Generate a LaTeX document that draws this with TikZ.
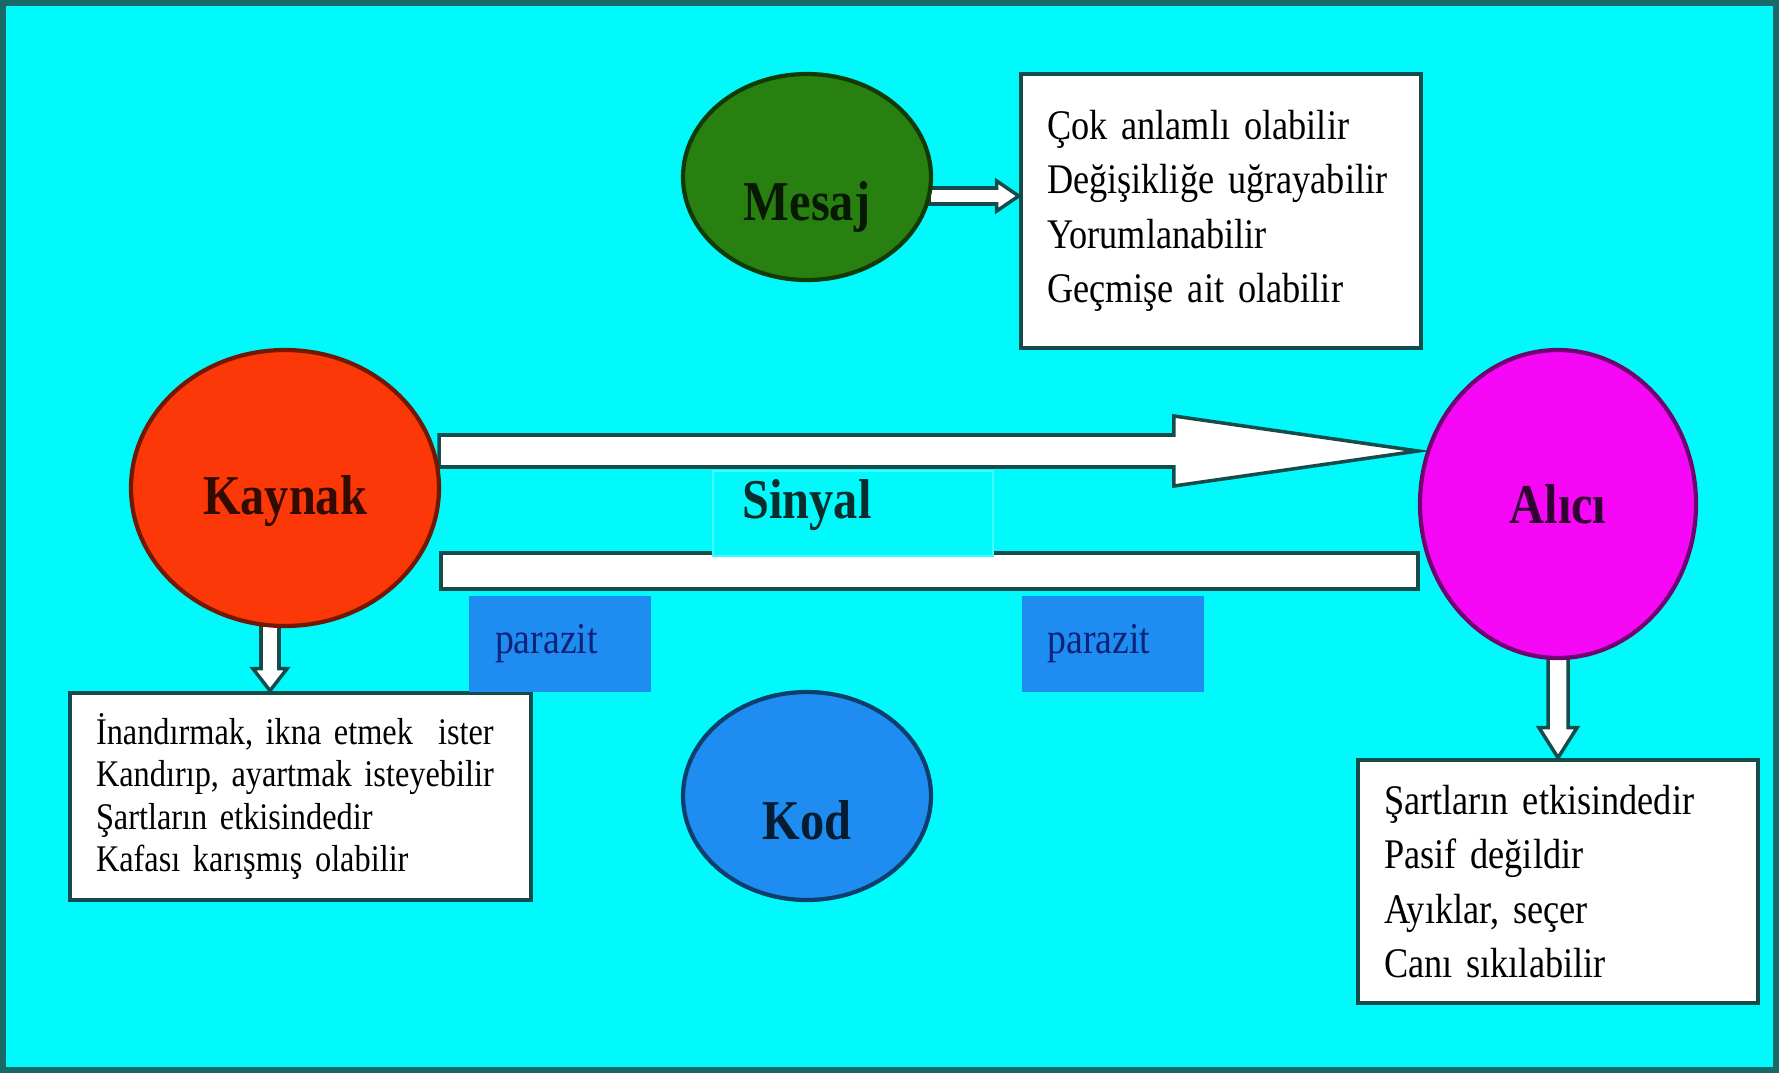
\documentclass[tikz,border=0pt]{standalone}
\usepackage{fontspec}
\setmainfont{Liberation Serif}[FakeStretch=0.86]
\usetikzlibrary{calc,shapes.geometric}
\definecolor{cmbg}{RGB}{0,250,252}
\definecolor{cmframe}{RGB}{25,105,105}
\definecolor{cmline}{RGB}{20,75,75}
\definecolor{cmgreen}{RGB}{40,128,16}
\definecolor{cmred}{RGB}{252,56,8}
\definecolor{cmpink}{RGB}{246,8,246}
\definecolor{cmblue}{RGB}{30,140,240}
\definecolor{cmnavy}{RGB}{15,35,120}
\pgfdeclarelayer{back}
\pgfdeclarelayer{links}
\pgfsetlayers{back,links,main}
% block arrow: start, end, shaft half width, head half width, head length
\newcommand{\blockarrow}[5]{%
  \coordinate (bah) at ($(#2)!#5!(#1)$);
  \draw[blk] ($(#1)!#3!90:(#2)$) -- ($(bah)!#3!90:(#2)$) -- ($(bah)!#4!90:(#2)$) -- (#2)
    -- ($(bah)!#4!-90:(#2)$) -- ($(bah)!#3!-90:(#2)$) -- ($(#1)!#3!-90:(#2)$) -- cycle;}

\begin{document}
\begin{tikzpicture}[
    blob/.style={ellipse,draw=#1!45!black,fill=#1,text=#1!20!black,line width=1.2pt,inner sep=0pt,
      font=\fontsize{16}{19}\selectfont\bfseries},
    lowtext/.style={text height=.9cm,text depth=.04cm},
    listbox/.style={draw=cmline,line width=1.3pt,fill=white,align=left,inner xsep=.26cm,
      font=\fontsize{12}{15.5}\selectfont},
    noise/.style={fill=cmblue,text=cmnavy,align=left,text width=1.3cm,inner xsep=.26cm,
      minimum height=.96cm,font=\fontsize{12.5}{15}\selectfont},
    sigbox/.style={draw=white!25!cmbg,line width=.4pt,fill=cmbg,align=left,inner xsep=.295cm,inner ysep=0pt,
      text width=2.21cm,minimum height=.85cm,text height=.45cm,text depth=.36cm,
      text=cmline!60!black,font=\fontsize{16}{19}\selectfont\bfseries},
    blk/.style={draw=cmline,fill=white,line width=1pt},
    bar/.style={draw=cmline,fill=white,line width=1pt}]

\useasboundingbox (0,0) rectangle (17.79,10.73);
\begin{pgfonlayer}{back}
  \draw[line width=1.5pt,draw=cmframe,fill=cmbg] (.03,.03) rectangle (17.76,10.70);
\end{pgfonlayer}

% the four parts
\node[blob=cmgreen,minimum width=2.48cm,minimum height=2.06cm,lowtext] (mesaj) at (8.07,8.96) {Mesaj};
\node[blob=cmred,minimum width=3.08cm,minimum height=2.76cm,text height=.55cm,text depth=.02cm] (kaynak) at (2.85,5.85) {Kaynak};
\node[blob=cmpink,minimum width=2.76cm,minimum height=3.08cm] (alici) at (15.58,5.69) {Alıcı};
\node[blob=cmblue,minimum width=2.48cm,minimum height=2.08cm,lowtext] (kod) at (8.07,2.77) {Kod};

% lists
\node[listbox,text width=3.48cm,minimum height=2.74cm] (mesajlist) at (12.21,8.62)
  {Çok anlamlı olabilir\\Değişikliğe uğrayabilir\\Yorumlanabilir\\Geçmişe ait olabilir\\[-.1cm]};
\node[listbox,text width=4.09cm,minimum height=2.07cm,font=\fontsize{10.7}{12}\selectfont] (kaynaklist) at (3.005,2.765)
  {İnandırmak, ikna etmek\ \ ister\\Kandırıp, ayartmak isteyebilir\\Şartların etkisindedir\\Kafası karışmış olabilir};
\node[listbox,text width=3.48cm,minimum height=2.43cm] (alicilist) at (15.58,1.915)
  {Şartların etkisindedir\\Pasif değildir\\Ayıklar, seçer\\Canı sıkılabilir};

% arrows
\begin{pgfonlayer}{links}
  \coordinate (m-a) at ($(mesaj.east)+(-.04,-.19)$);
  \coordinate (m-b) at (mesajlist.west |- m-a);
  \blockarrow{m-a}{m-b}{.08cm}{.15cm}{.22cm}
  \coordinate (s-a) at ($(kaynak.east)+(-.02,.37)$);
  \coordinate (s-b) at (alici.west |- s-a);
  \blockarrow{s-a}{s-b}{.16cm}{.35cm}{2.44cm}
  \coordinate (k-a) at ($(kaynak.south)+(-.15,.05)$);
  \coordinate (k-b) at (kaynaklist.north -| k-a);
  \blockarrow{k-a}{k-b}{.09cm}{.17cm}{.22cm}
  \coordinate (a-a) at ($(alici.south)+(0,.05)$);
  \coordinate (a-b) at (alicilist.north -| a-a);
  \blockarrow{a-a}{a-b}{.1cm}{.19cm}{.3cm}
\end{pgfonlayer}

% channel
\draw[bar] (kaynak.east |- 0,5.20) rectangle (alici.west |- 0,4.84);
\node[sigbox] (sinyal) at (8.53,5.595) {Sinyal};
\node[noise] (parazit1) at (5.60,4.29) {parazit};
\node[noise] (parazit2) at (11.125,4.29) {parazit};
\end{tikzpicture}
\end{document}
